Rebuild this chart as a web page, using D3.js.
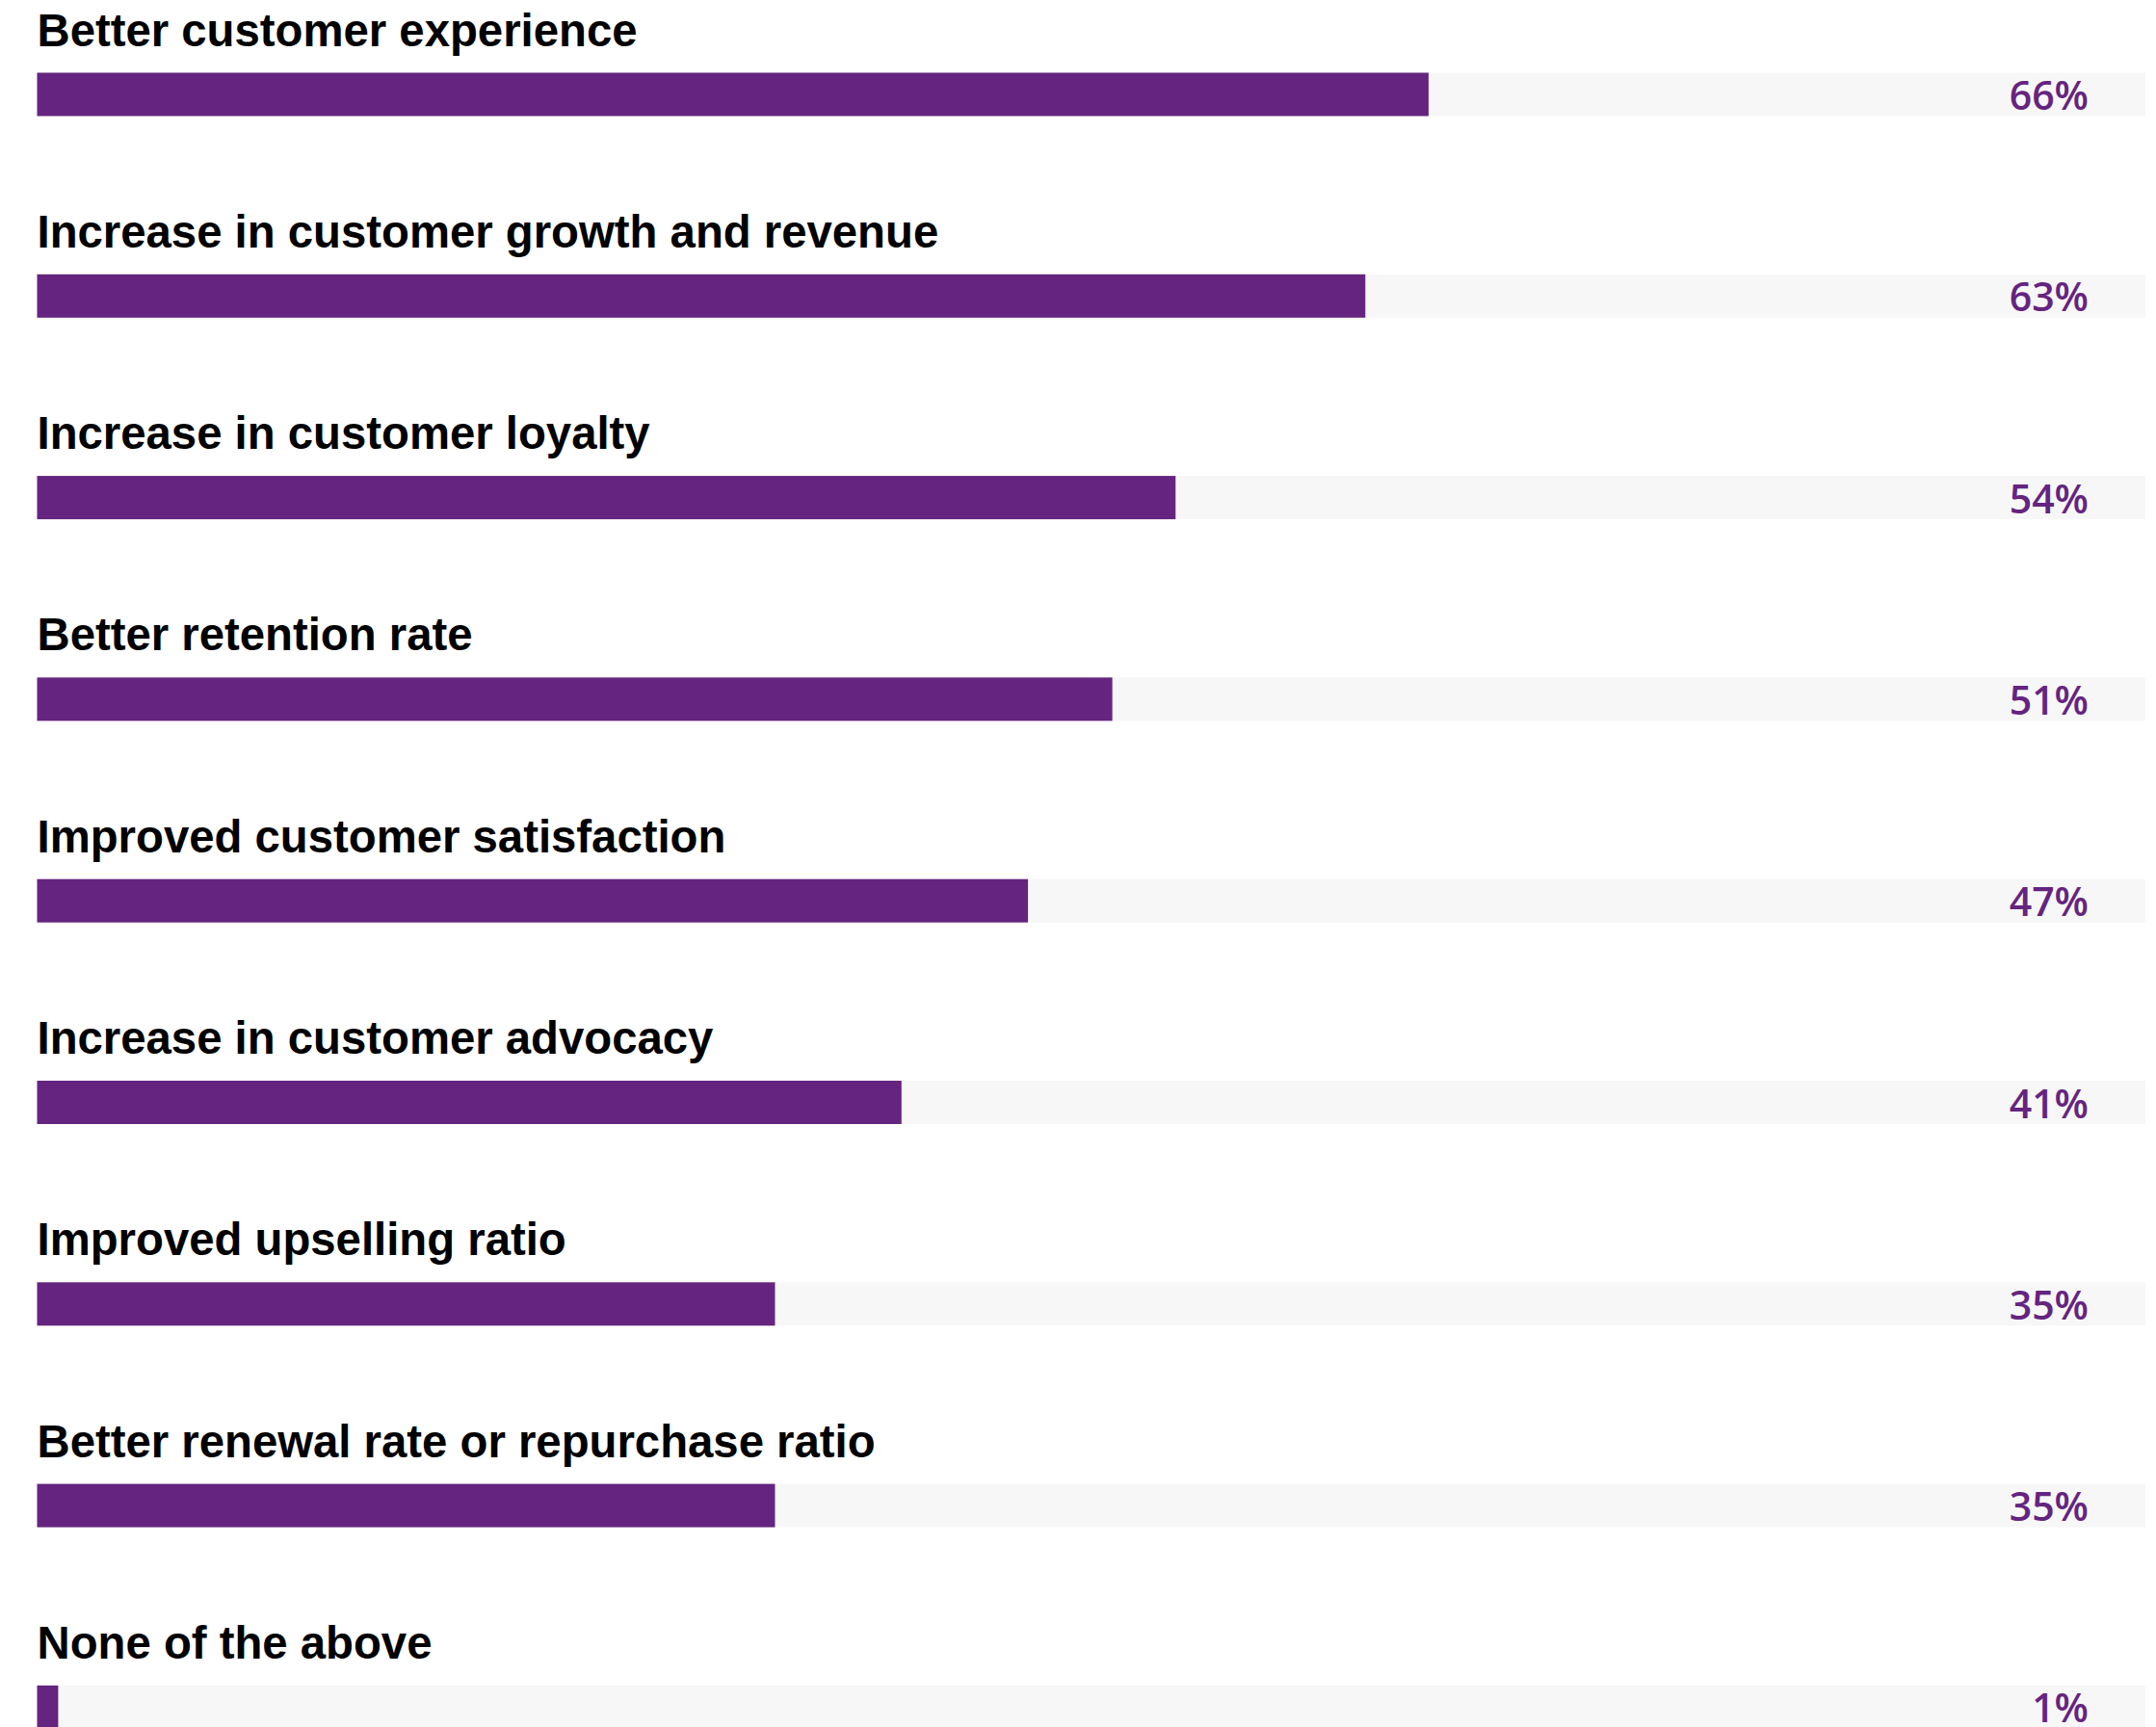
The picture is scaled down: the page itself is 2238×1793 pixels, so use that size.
<!DOCTYPE html>
<html>
<head>
<meta charset="utf-8">
<script src="https://cdn.jsdelivr.net/npm/d3@7"></script>
<style>
  html, body { margin: 0; padding: 0; background: #ffffff; }
  svg { display: block; }
</style>
</head>
<body>
<script>
// Survey outcomes, share of respondents (%)
const categories = [
  "Better customer experience",
  "Increase in customer growth and revenue",
  "Increase in customer loyalty",
  "Better retention rate",
  "Improved customer satisfaction",
  "Increase in customer advocacy",
  "Improved upselling ratio",
  "Better renewal rate or repurchase ratio",
  "None of the above"
];
const values = [66, 63, 54, 51, 47, 41, 35, 35, 1];
const valueLabels = ["66%", "63%", "54%", "51%", "47%", "41%", "35%", "35%", "1%"];

const W = 2238, H = 1793;
const purple = "#65247f";
const track = "#f7f7f7";

const svg = d3.select("body").append("svg")
  .attr("width", W).attr("height", H);

const x = d3.scaleLinear().domain([0, 100]).range([38.5, 2227]);
const y = d3.scaleBand().domain(categories).range([75.5, 75.5 + 209.3 * categories.length]).padding(0);

const barH = 45;

const rows = svg.selectAll("g.row")
  .data(categories.map((c, i) => ({ c, v: values[i], label: valueLabels[i] })))
  .join("g")
  .attr("class", "row")
  .attr("transform", d => `translate(0,${y(d.c)})`);

// background track spanning the full 0–100% range
rows.append("rect")
  .attr("x", x(0)).attr("y", 0)
  .attr("width", x(100) - x(0)).attr("height", barH)
  .attr("fill", track);

// value bar
rows.append("rect")
  .attr("x", x(0)).attr("y", 0)
  .attr("width", d => x(d.v) - x(0)).attr("height", barH)
  .attr("fill", purple);

// category label above each bar
rows.append("text")
  .attr("x", x(0)).attr("y", -28)
  .attr("font-family", "'Liberation Sans', Arial, sans-serif")
  .attr("font-weight", 700)
  .attr("font-size", 47.3)
  .attr("fill", "#000")
  .text(d => d.c);

// percentage at the right end of the track
rows.append("text")
  .attr("x", 2168).attr("y", 38.5)
  .attr("text-anchor", "end")
  .attr("font-family", "'Open Sans', sans-serif")
  .attr("font-weight", 600)
  .attr("font-size", 41)
  .attr("fill", purple)
  .text(d => d.label);
</script>
</body>
</html>
